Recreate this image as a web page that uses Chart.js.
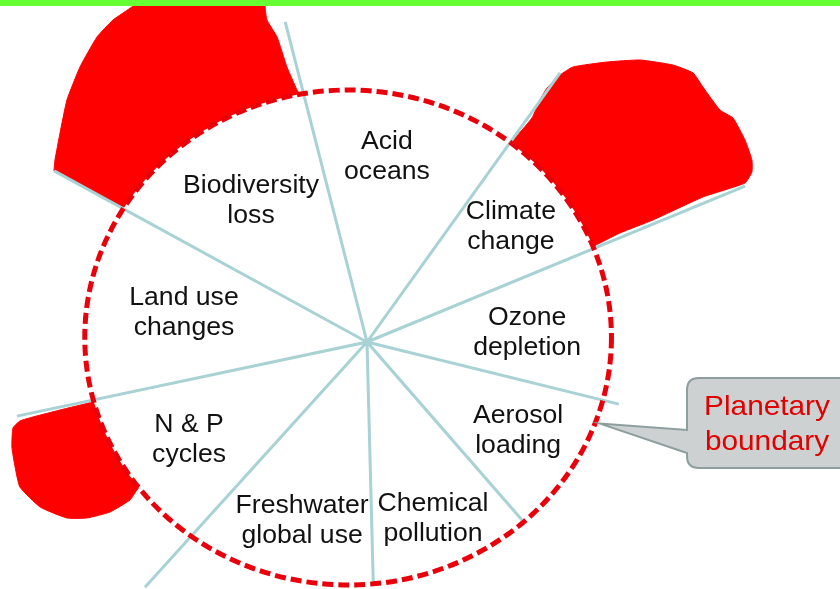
<!DOCTYPE html>
<html>
<head>
<meta charset="utf-8">
<script src="https://cdn.jsdelivr.net/npm/chart.js@4.4.0/dist/chart.umd.min.js"></script>
<style>
  html, body { margin: 0; padding: 0; background: #fff; }
  #wrap { position: relative; width: 840px; height: 589px; overflow: hidden; }
  #topbar { position: absolute; left: 0; top: 0; width: 840px; height: 6px; background: #66ff33; }
</style>
</head>
<body>
<div id="wrap">
  <canvas id="myChart" width="840" height="589"></canvas>
  <div id="topbar"></div>
</div>
<script>
// nine boundaries, clockwise from the top (units: % of the safe boundary radius)
let sectors = [
  ['Acid', 'oceans'],
  ['Climate', 'change'],
  ['Ozone', 'depletion'],
  ['Aerosol', 'loading'],
  ['Chemical', 'pollution'],
  ['Freshwater', 'global use'],
  ['N & P', 'cycles'],
  ['Land use', 'changes'],
  ['Biodiversity', 'loss']
];
// dividing spokes: angle (deg, clockwise from top) and length
let spokeAngles = [-13.5, 34.0, 66.3, 104.7, 140.7, 178.6, 220.4, 257.3, 300.2];
let spokeLengths = [131.7, 129.8, 155.2, 97.9, 92.0, 97.2, 128.8, 134.9, 136.1];

// the planetary boundary (dashed ring)
let boundaryRadius = 99;
let boundaryCenter = [-7.1, 1.8];

// areas where the boundary is overshot (outline, x / y)
let biodiversityLoss = [
  [-117.7, 68.4], [-117.3, 72.8], [-115.4, 83.6], [-112.8, 96.8], [-107.9, 110],
  [-101.5, 122], [-95.5, 128.8], [-88, 134.4], [-85.3, 139], [-38.3, 139],
  [-38.3, 134], [-37.6, 128.8], [-33.8, 122], [-30.1, 110], [-26.3, 100.8],
  [-24.1, 96.8], [-44, 56.8], [-85.3, 49.6]
];
let climateChange = [
  [42.5, 62.8], [54.1, 79.6], [62.0, 89.6], [65.0, 96.8], [67.7, 101.6],
  [72.6, 106.8], [77.4, 110], [90.2, 112], [102.6, 112.8], [115.0, 110.8],
  [122.6, 107.6], [126.3, 102], [132.7, 92.8], [137.6, 89.6], [142.1, 80.8],
  [144.7, 72.8], [144.7, 68], [142.1, 63.6], [126.3, 58], [107.5, 48.8],
  [95.1, 43.6], [84.6, 38], [57.5, 25.2]
];
let nitrogenPhosphorus = [
  [-81.6, -18.4], [-103, -24], [-115.4, -27.2], [-125.6, -30], [-130.5, -31.6],
  [-133.1, -34.4], [-133.5, -42], [-132.3, -50], [-130.5, -58], [-122.9, -66],
  [-112.8, -70.4], [-105.3, -70.4], [-96.6, -68], [-89.1, -63.2], [-86.5, -59.2],
  [-81.6, -53.2]
];
let calloutText = ['Planetary', 'boundary'];

// ---- layout (data units) ----
let labelAt = [
  [7.5, 74.8], [54.1, 46.8], [60.2, 4.4], [56.8, -34.8], [24.8, -70],
  [-24.4, -70.8], [-66.9, -38.4], [-68.8, 12.4], [-43.6, 57.2]
];
let calloutBox = { left: 120.3, top: -14.4, bottom: -50.4, right: 190, baseTop: -35.2, baseBottom: -44.4 };
let calloutTipAngle = 110;
let stretch = 1.064;

let toRad = d => d * Math.PI / 180;
let spokePts = [];
for (let i = 0; i < spokeAngles.length; i++) {
  spokePts.push({x: 0, y: 0});
  spokePts.push({x: spokeLengths[i] * Math.sin(toRad(spokeAngles[i])), y: spokeLengths[i] * Math.cos(toRad(spokeAngles[i]))});
}
let toPts = arr => arr.map(p => ({x: p[0], y: p[1]}));

function blob(label, arr) {
  return {
    label: label, data: toPts(arr), showLine: true, fill: 'shape',
    backgroundColor: '#ff0000', borderColor: '#ff0000', borderWidth: 1,
    pointRadius: 0, tension: 0.15, order: 5
  };
}

function ellipsePath(chart, r) {
  let xs = chart.scales.x, ys = chart.scales.y;
  let cx = xs.getPixelForValue(boundaryCenter[0]), cy = ys.getPixelForValue(boundaryCenter[1]);
  let rx = xs.getPixelForValue(boundaryCenter[0] + r) - cx;
  let ry = cy - ys.getPixelForValue(boundaryCenter[1] + r);
  let ctx = chart.ctx;
  ctx.beginPath();
  ctx.ellipse(cx, cy, rx, ry, 0, 0, Math.PI * 2);
}

function stretchedText(ctx, str, px, py) {
  ctx.save();
  ctx.translate(px, py);
  ctx.scale(stretch, 1);
  ctx.fillText(str, 0, 0);
  ctx.restore();
}

const wheel = {
  id: 'wheel',
  beforeDatasetDraw(chart, args) {
    // white inside of the boundary goes over the red overshoot, under the spokes
    if (chart.data.datasets[args.index].label === 'spokes') {
      let ctx = chart.ctx;
      ctx.save();
      ellipsePath(chart, boundaryRadius);
      ctx.fillStyle = '#ffffff';
      ctx.fill();
      ctx.restore();
    }
  },
  afterDatasetsDraw(chart) {
    let ctx = chart.ctx, xs = chart.scales.x, ys = chart.scales.y;
    ctx.save();
    ellipsePath(chart, boundaryRadius);
    ctx.setLineDash([11, 5]);
    ctx.lineWidth = 5;
    ctx.strokeStyle = '#e8000b';
    ctx.stroke();
    ctx.restore();

    // sector names
    ctx.save();
    ctx.font = '25px "Liberation Sans", Arial, sans-serif';
    ctx.fillStyle = '#111111';
    ctx.textAlign = 'center';
    ctx.textBaseline = 'alphabetic';
    for (let i = 0; i < sectors.length; i++) {
      let px = xs.getPixelForValue(labelAt[i][0]);
      let py = ys.getPixelForValue(labelAt[i][1]);
      stretchedText(ctx, sectors[i][0], px, py - 6);
      stretchedText(ctx, sectors[i][1], px, py + 24);
    }
    ctx.restore();

    // callout
    let tipX = xs.getPixelForValue(boundaryCenter[0] + 100.5 * Math.sin(toRad(calloutTipAngle)));
    let tipY = ys.getPixelForValue(boundaryCenter[1] + 100.5 * Math.cos(toRad(calloutTipAngle)));
    let l = xs.getPixelForValue(calloutBox.left), r = xs.getPixelForValue(calloutBox.right);
    let t = ys.getPixelForValue(calloutBox.top), b = ys.getPixelForValue(calloutBox.bottom);
    let bt = ys.getPixelForValue(calloutBox.baseTop), bb = ys.getPixelForValue(calloutBox.baseBottom);
    let rad = 12;
    ctx.save();
    ctx.beginPath();
    ctx.moveTo(tipX, tipY);
    ctx.lineTo(l, bt);
    ctx.lineTo(l, t + rad);
    ctx.quadraticCurveTo(l, t, l + rad, t);
    ctx.lineTo(r, t);
    ctx.lineTo(r, b);
    ctx.lineTo(l + rad, b);
    ctx.quadraticCurveTo(l, b, l, b - rad);
    ctx.lineTo(l, bb);
    ctx.closePath();
    ctx.fillStyle = '#cdd1d1';
    ctx.fill();
    ctx.lineWidth = 2;
    ctx.strokeStyle = '#8e9e9e';
    ctx.stroke();
    ctx.font = '28px "Liberation Sans", Arial, sans-serif';
    ctx.fillStyle = '#e00000';
    ctx.textAlign = 'center';
    let cx = l + 80;
    stretchedText(ctx, calloutText[0], cx, t + 37);
    stretchedText(ctx, calloutText[1], cx, t + 72);
    ctx.restore();
  }
};

let ctx = document.getElementById('myChart').getContext('2d');
let chart = new Chart(ctx, {
  type: 'scatter',
  data: {
    datasets: [
      {label: 'spokes', data: spokePts, showLine: true, borderColor: '#a9d2d5', borderWidth: 3, pointRadius: 0, fill: false, order: 1},
      blob('Biodiversity loss', biodiversityLoss),
      blob('Climate change', climateChange),
      blob('N & P cycles', nitrogenPhosphorus)
    ]
  },
  options: {
    responsive: false,
    animation: false,
    events: [],
    layout: { padding: 0, autoPadding: false },
    plugins: { legend: { display: false }, tooltip: { enabled: false } },
    scales: {
      x: { type: 'linear', display: false, min: -137.97, max: 177.82 },
      y: { type: 'linear', display: false, min: -98.8, max: 136.8 }
    }
  },
  plugins: [wheel]
});
</script>
</body>
</html>
